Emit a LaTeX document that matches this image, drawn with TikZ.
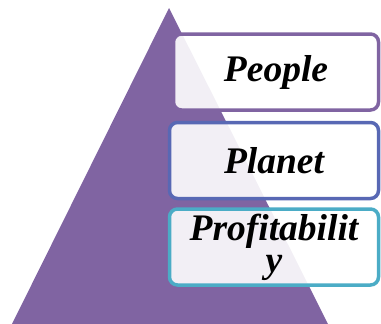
\documentclass[tikz,border=0pt]{standalone}
\usepackage{fontspec}
\setmainfont{Liberation Serif}
\definecolor{pyramid}{RGB}{128,100,162}
\definecolor{planetline}{RGB}{88,104,180}
\definecolor{profitline}{RGB}{75,172,198}
\tikzset{
  pillar/.style= {draw, line width=3.5, rounded corners=8, fill=white, fill opacity=0.9,
    text opacity=1, minimum height=76, align=center,
    font=\fontsize{37.5}{32}\selectfont\bfseries\itshape},
}

\begin{document}
\begin{tikzpicture}[x=1pt, y=-1pt]
  \useasboundingbox (0,0) rectangle (381,324) ;
  \coordinate (top) at (169,8) ;
  \coordinate (left) at (12,324) ;
  \coordinate (right) at (328,324) ;
  \fill [pyramid] (top) -- (left) -- (right) -- cycle ;

  \node [pillar, draw=pyramid, minimum width=205] (people) at (276,72) {People} ;
  \node [pillar, draw=planetline, minimum width=209] (planet) at (274,160.5) {Planet} ;
  \node [pillar, draw=profitline, minimum width=209] (profit) at (274,247) {Profitabilit\\y} ;
\end{tikzpicture}
\end{document}
